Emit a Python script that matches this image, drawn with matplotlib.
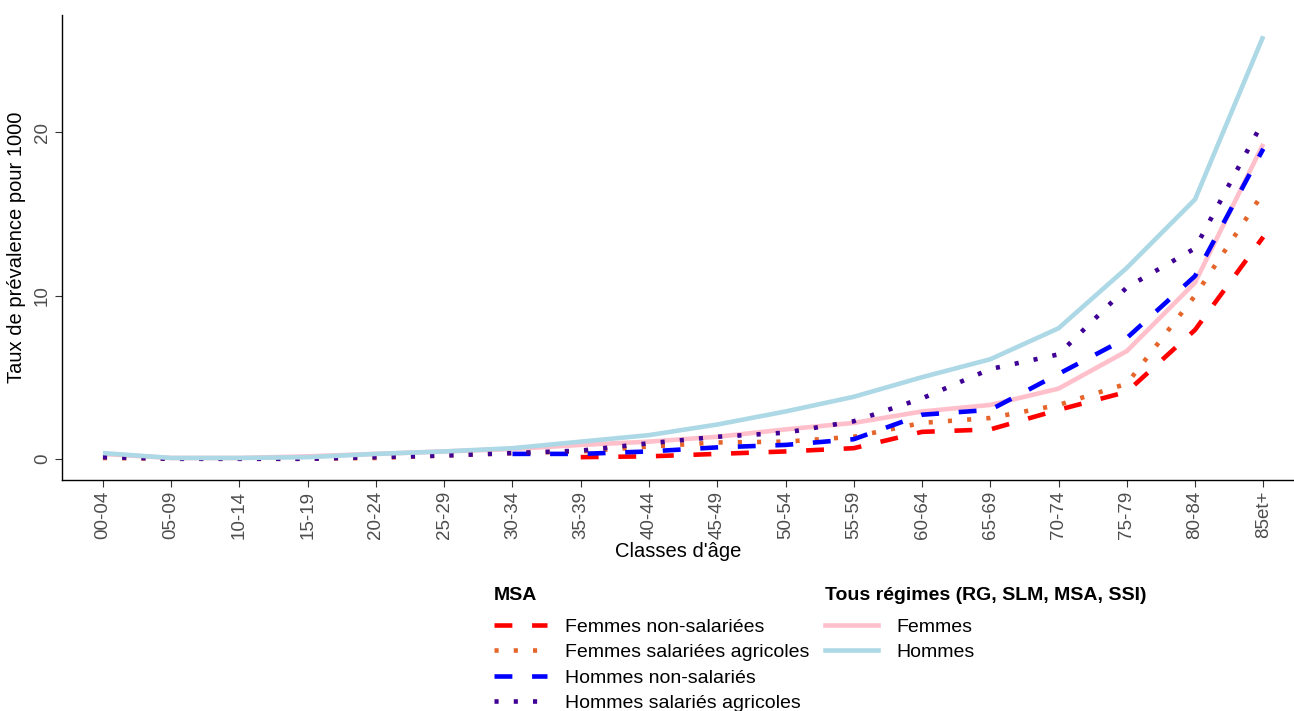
import numpy as np
import matplotlib
matplotlib.use("Agg")
import matplotlib.pyplot as plt
from matplotlib.lines import Line2D

plt.rcParams["font.family"] = ["Liberation Sans", "DejaVu Sans"]

nan = np.nan

# classes d'âge
ages = ["00-04", "05-09", "10-14", "15-19", "20-24", "25-29", "30-34", "35-39",
        "40-44", "45-49", "50-54", "55-59", "60-64", "65-69", "70-74", "75-79",
        "80-84", "85et+"]

# MSA
femmes_nonsal = [nan, nan, nan, nan, nan, nan, nan, 0.1, 0.15, 0.3, 0.45, 0.65,
                 1.65, 1.8, 3.0, 4.1, 7.9, 13.6]
femmes_salagri = [0.05, 0.0, 0.0, 0.0, 0.05, 0.2, 0.35, 0.45, 0.75, 1.0, 1.05, 1.35,
                  2.2, 2.5, 3.3, 4.6, 10.0, 16.3]
hommes_nonsal = [nan, nan, nan, nan, nan, nan, 0.3, 0.3, 0.45, 0.7, 0.85, 1.2,
                 2.7, 3.0, 5.2, 7.4, 11.2, 19.0]
hommes_salagri = [0.1, 0.0, 0.0, 0.0, 0.1, 0.2, 0.35, 0.5, 0.95, 1.35, 1.6, 2.3,
                  3.7, 5.5, 6.4, 10.5, 12.9, 20.7]

# Tous régimes (RG, SLM, MSA, SSI)
tous_femmes = [0.3, 0.05, 0.05, 0.15, 0.3, 0.45, 0.6, 0.85, 1.05, 1.35, 1.8, 2.2,
               2.9, 3.3, 4.3, 6.6, 10.8, 19.3]
tous_hommes = [0.35, 0.05, 0.05, 0.1, 0.3, 0.45, 0.65, 1.05, 1.45, 2.1, 2.9, 3.8,
               5.0, 6.1, 8.0, 11.7, 15.9, 25.9]

C_RED = "#FF0000"
C_ORANGE = "#E5652B"
C_BLUE = "#0000FF"
C_INDIGO = "#3F0095"
C_PINK = "#FFC0CB"
C_LBLUE = "#ADD8E6"

LW = 3.3
DASH = (0, (3.9, 4.3))
DOT = (0, (0.9, 3.3))

W, H = 1294, 711
fig = plt.figure(figsize=(W / 100, H / 100), dpi=100)
ax = fig.add_axes([62 / W, 1 - 480 / H, (W - 62) / W, (480 - 15) / H])

x = np.arange(len(ages))
ax.plot(x, tous_femmes, color=C_PINK, lw=LW, solid_capstyle="butt")
ax.plot(x, femmes_nonsal, color=C_RED, lw=LW, linestyle=DASH, dash_capstyle="butt")
ax.plot(x, femmes_salagri, color=C_ORANGE, lw=LW, linestyle=DOT, dash_capstyle="butt")
ax.plot(x, hommes_nonsal, color=C_BLUE, lw=LW, linestyle=DASH, dash_capstyle="butt")
ax.plot(x, hommes_salagri, color=C_INDIGO, lw=LW, linestyle=DOT, dash_capstyle="butt")
ax.plot(x, tous_hommes, color=C_LBLUE, lw=LW, solid_capstyle="butt")

ax.set_xlim(-0.6, 17.45)
ax.set_ylim(-1.3, 27.2)
ax.set_xticks(x)
ax.set_xticklabels(ages, rotation=90, fontsize=13.5, color="#4D4D4D")
ax.set_yticks([0, 10, 20])
ax.set_yticklabels(["0", "10", "20"], rotation=90, va="center", fontsize=13.5, color="#4D4D4D")
ax.tick_params(length=5, width=0.8, color="#333333", pad=3)
for s in ("top", "right"):
    ax.spines[s].set_visible(False)
for s in ("left", "bottom"):
    ax.spines[s].set_linewidth(1.0)
    ax.spines[s].set_color("black")
ax.set_xlabel("Classes d'âge", fontsize=14.5, labelpad=2)
ax.set_ylabel("Taux de prévalence pour 1000", fontsize=14.5, labelpad=6)

msa_handles = [
    Line2D([], [], color=C_RED, lw=LW, linestyle=DASH, dash_capstyle="butt"),
    Line2D([], [], color=C_ORANGE, lw=LW, linestyle=DOT, dash_capstyle="butt"),
    Line2D([], [], color=C_BLUE, lw=LW, linestyle=DASH, dash_capstyle="butt"),
    Line2D([], [], color=C_INDIGO, lw=LW, linestyle=DOT, dash_capstyle="butt"),
]
msa_labels = ["Femmes non-salariées", "Femmes salariées agricoles",
              "Hommes non-salariés", "Hommes salariés agricoles"]
tous_handles = [Line2D([], [], color=C_PINK, lw=LW), Line2D([], [], color=C_LBLUE, lw=LW)]
tous_labels = ["Femmes", "Hommes"]

common = dict(loc="upper left", frameon=False, fontsize=14, handlelength=2.7,
              handletextpad=0.95, labelspacing=0.41, borderpad=0, borderaxespad=0,
              alignment="left", title_fontproperties={"weight": "bold", "size": 14})
leg1 = fig.legend(msa_handles, msa_labels, title="MSA",
                  bbox_to_anchor=(494 / W, 1 - 587 / H), **common)
leg2 = fig.legend(tous_handles, tous_labels, title="Tous régimes (RG, SLM, MSA, SSI)",
                  bbox_to_anchor=(825 / W, 1 - 587 / H), **common)
# un peu plus d'espace entre titre et entrées, comme ggplot
for leg in (leg1, leg2):
    leg._legend_box.sep += 4.3

fig.savefig("out.png", dpi=100, facecolor="white")
